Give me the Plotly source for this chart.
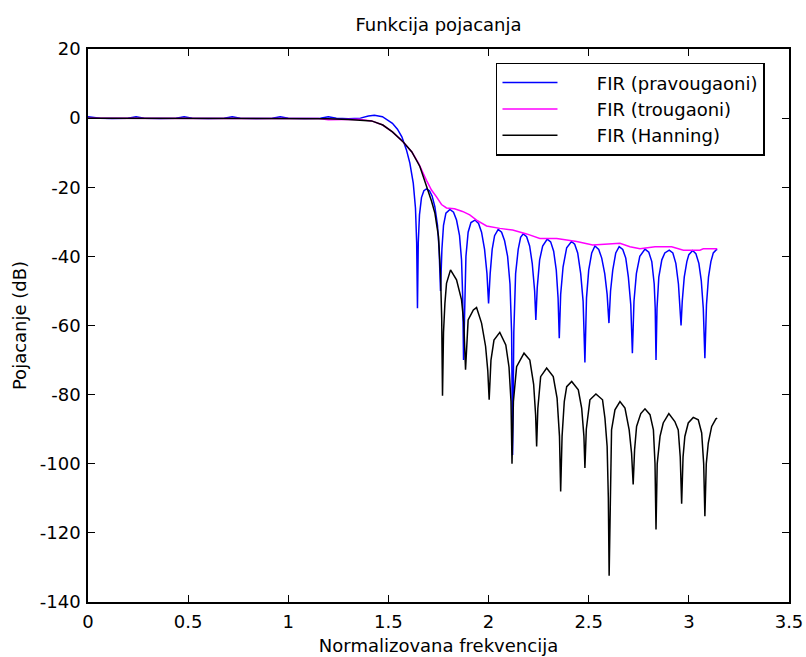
import plotly.graph_objects as go

# ---- data ----
rect_x = [0.0, 0.06, 0.12, 0.20, 0.24, 0.28, 0.36, 0.44, 0.48, 0.52, 0.60, 0.68, 0.72, 0.76, 0.84, 0.92, 0.96, 1.00,
          1.08, 1.16, 1.20, 1.24, 1.30, 1.36, 1.40, 1.43, 1.47, 1.50, 1.52, 1.545, 1.567, 1.59, 1.607, 1.624, 1.635,
          1.641, 1.645, 1.649, 1.655, 1.665, 1.677, 1.69, 1.705, 1.718, 1.732, 1.745, 1.753, 1.76, 1.767, 1.775,
          1.787, 1.807, 1.825, 1.84, 1.855, 1.865, 1.871, 1.875, 1.880, 1.887, 1.898, 1.912, 1.932, 1.95, 1.965,
          1.98, 1.992, 2.0, 2.008, 2.018, 2.03, 2.048, 2.065, 2.08, 2.095, 2.107, 2.115, 2.12, 2.126, 2.135, 2.148,
          2.16, 2.173, 2.19, 2.205, 2.218, 2.23, 2.236, 2.243, 2.255, 2.27, 2.293, 2.31, 2.325, 2.338, 2.347, 2.353,
          2.36, 2.372, 2.39, 2.414, 2.43, 2.445, 2.46, 2.472, 2.481, 2.489, 2.5, 2.515, 2.531, 2.55, 2.565, 2.58,
          2.592, 2.601, 2.609, 2.62, 2.635, 2.652, 2.67, 2.685, 2.698, 2.71, 2.718, 2.726, 2.738, 2.755, 2.781, 2.80,
          2.815, 2.827, 2.832, 2.836, 2.841, 2.85, 2.865, 2.88, 2.902, 2.92, 2.935, 2.948, 2.956, 2.961, 2.967, 2.977,
          2.99, 3.0, 3.019, 3.035, 3.05, 3.062, 3.072, 3.080, 3.088, 3.098, 3.11, 3.122, 3.135, 3.1416]
rect_db = [0.4, 0.0, -0.1, 0.0, 0.4, 0.0, -0.1, 0.0, 0.4, 0.0, -0.1, 0.0, 0.4, 0.0, -0.1, 0.0, 0.4, 0.0,
           -0.1, 0.0, 0.4, 0.0, -0.2, 0.0, 0.6, 0.8, 0.4, -0.6, -1.5, -3.2, -5.4, -9.2, -13.0, -18.8, -26.0,
           -36.0, -55.0, -36.0, -28.0, -23.0, -21.0, -20.5, -21.0, -22.5, -25.7, -31.0, -38.0, -50.0, -38.0, -31.0,
           -27.5, -26.4, -27.2, -29.5, -34.0, -41.0, -52.0, -70.0, -52.0, -40.0, -33.0, -30.2, -29.5, -30.5, -33.0,
           -38.0, -45.0, -53.6, -45.0, -38.0, -34.0, -32.2, -33.0, -35.5, -40.0, -48.0, -62.0, -97.5, -62.0, -45.0, -38.0,
           -34.5, -33.5, -34.3, -37.0, -42.0, -50.0, -58.4, -49.0, -41.0, -37.0, -35.0, -35.8, -38.5, -44.0, -52.0, -63.7,
           -51.0, -43.0, -37.5, -35.7, -36.5, -39.0, -45.0, -53.0, -70.7, -52.0, -44.0, -39.0, -37.0, -38.0, -40.5, -45.0,
           -51.0, -59.3, -50.0, -44.0, -39.0, -37.2, -38.0, -40.5, -46.0, -54.0, -68.0, -53.0, -45.0, -40.0, -37.9, -38.8,
           -41.5, -48.0, -55.0, -70.0, -55.0, -46.0, -41.0, -39.0, -38.2, -39.0, -42.0, -48.0, -54.0, -60.0, -53.0, -46.0,
           -41.5, -39.5, -38.3, -39.2, -42.0, -47.0, -55.0, -69.5, -54.0, -46.0, -41.5, -39.0, -38.2, -38.0]

tri_x = [0.0, 0.3, 0.6, 0.9, 1.15, 1.20, 1.30, 1.35, 1.416, 1.45, 1.472, 1.52, 1.574, 1.617, 1.65, 1.69, 1.715,
         1.74, 1.765, 1.79, 1.83, 1.87, 1.906, 1.94, 1.99, 2.056, 2.12, 2.19, 2.256, 2.34, 2.44, 2.52, 2.60, 2.656,
         2.706, 2.756, 2.831, 2.914, 2.973, 3.055, 3.072, 3.1416]
tri_db = [0.0, 0.0, 0.0, 0.0, -0.1, -0.5, -0.5, -0.3, -0.8, -1.4, -2.0, -4.0, -6.9, -9.8, -13.0, -18.0, -20.8,
          -22.8, -25.0, -26.0, -26.2, -27.0, -28.0, -29.5, -31.2, -31.9, -32.4, -33.5, -34.8, -34.8, -35.7, -36.7, -36.3, -36.2,
          -37.2, -37.8, -37.2, -37.2, -38.2, -38.2, -37.8, -37.8]

hann_x = [0.0, 0.5, 1.0, 1.2, 1.3, 1.38, 1.416, 1.472, 1.52, 1.574, 1.617, 1.657, 1.698, 1.715, 1.732, 1.75, 1.76,
          1.766, 1.77, 1.775, 1.782, 1.79, 1.81, 1.84, 1.865, 1.876, 1.885, 1.892, 1.898, 1.924, 1.94, 1.965, 1.985,
          1.996, 2.003, 2.012, 2.027, 2.056, 2.086, 2.102, 2.112, 2.117, 2.124, 2.14, 2.177, 2.206, 2.225, 2.235, 2.24,
          2.246, 2.26, 2.29, 2.323, 2.342, 2.354, 2.36, 2.367, 2.378, 2.39, 2.415, 2.448, 2.465, 2.476, 2.481, 2.488,
          2.506, 2.536, 2.569, 2.581, 2.592, 2.598, 2.602, 2.607, 2.614, 2.631, 2.656, 2.681, 2.702, 2.714, 2.722,
          2.729, 2.739, 2.76, 2.781, 2.806, 2.823, 2.831, 2.836, 2.842, 2.856, 2.872, 2.9, 2.93, 2.947, 2.957, 2.964,
          2.971, 2.98, 2.997, 3.022, 3.047, 3.064, 3.074, 3.08, 3.087, 3.097, 3.114, 3.135, 3.1416]
hann_db = [0.0, 0.0, 0.0, -0.2, -0.4, -0.6, -0.8, -2.0, -4.0, -6.9, -9.8, -14.0, -20.8, -24.0, -27.5, -34.3, -45.0,
           -58.0, -80.3, -62.0, -53.6, -47.8, -43.9, -46.8, -52.6, -59.0, -72.8, -62.0, -58.4, -55.5, -54.8, -59.3, -66.0,
           -73.0, -81.5, -70.0, -64.2, -62.0, -65.6, -72.0, -82.0, -100.0, -82.0, -71.9, -68.0, -70.0, -77.0, -86.0, -95.0,
           -84.0, -74.8, -72.3, -74.8, -81.0, -92.0, -108.0, -92.0, -82.0, -77.7, -76.2, -78.6, -84.0, -92.0, -101.2, -90.0,
           -81.5, -79.8, -81.5, -86.8, -95.0, -110.0, -132.4, -110.0, -90.2, -84.4, -82.0, -83.9, -90.2, -97.0, -106.0,
           -96.0, -89.2, -85.5, -84.1, -85.8, -90.2, -100.0, -119.0, -100.0, -92.1, -88.2, -85.5, -87.8, -90.2, -98.0, -111.6,
           -98.0, -92.1, -88.2, -86.6, -87.3, -91.1, -100.0, -115.2, -100.0, -94.0, -89.2, -87.0, -86.8]

series_names = ["FIR (pravougaoni)", "FIR (trougaoni)", "FIR (Hanning)"]
series_colors = ["#0000FF", "#FF00FF", "#000000"]

x_ticks = [0, 0.5, 1, 1.5, 2, 2.5, 3, 3.5]
x_tick_labels = ["0", "0.5", "1", "1.5", "2", "2.5", "3", "3.5"]
y_ticks = [-140, -120, -100, -80, -60, -40, -20, 0, 20]
y_tick_labels = ["-140", "-120", "-100", "-80", "-60", "-40", "-20", "0", "20"]

FONT = "DejaVu Sans, Verdana, sans-serif"
FS = 18

fig = go.Figure()
for xs, ys, name, col in zip([rect_x, tri_x, hann_x], [rect_db, tri_db, hann_db], series_names, series_colors):
    fig.add_trace(go.Scatter(x=xs, y=ys, mode="lines", name="      " + name,
                             line=dict(color=col, width=1.5)))

axis_common = dict(showgrid=False, zeroline=False, showline=True, linecolor="black", linewidth=1.5,
                   mirror="ticks", ticks="inside", ticklen=7, tickwidth=1, tickcolor="black",
                   automargin=False,
                   tickfont=dict(family=FONT, size=FS, color="black"))

fig.update_xaxes(range=[0, 3.5], tickvals=x_ticks, ticktext=x_tick_labels, ticklabelstandoff=3,
                 title=dict(text="Normalizovana frekvencija", font=dict(family=FONT, size=FS, color="black"), standoff=8),
                 **axis_common)
fig.update_yaxes(range=[-140, 20], tickvals=y_ticks, ticktext=y_tick_labels, ticklabelstandoff=2,
                 title=dict(text="Pojacanje (dB)", font=dict(family=FONT, size=FS, color="black"), standoff=8),
                 **axis_common)

fig.update_layout(
    width=806, height=657,
    margin=dict(l=88, r=17, t=49, b=55),
    paper_bgcolor="white", plot_bgcolor="white",
    title=dict(text="Funkcija pojacanja", x=0.5, xref="paper", y=1 - 25 / 657, yref="container",
               xanchor="center", yanchor="middle", font=dict(family=FONT, size=FS, color="black")),
    legend=dict(x=0.582, y=0.975, xanchor="left", yanchor="top", bgcolor="white",
                bordercolor="black", borderwidth=1.5, itemwidth=55,
                font=dict(family=FONT, size=FS, color="black")),
    showlegend=True,
)

fig.write_html("out.html", config={"displayModeBar": False},
               post_script="document.body.style.margin='0';document.body.style.overflow='hidden';")
